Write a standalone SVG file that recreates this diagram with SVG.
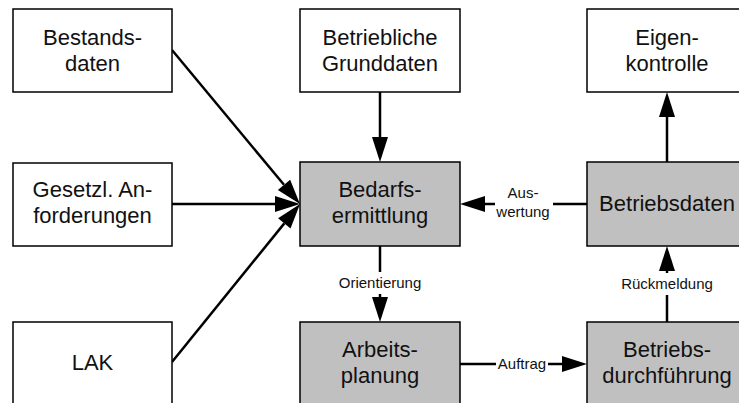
<svg xmlns="http://www.w3.org/2000/svg" width="739" height="403" viewBox="0 0 739 403">
  <style>
    .box { fill: #ffffff; stroke: #000000; stroke-width: 1.5; }
    .proc { fill: #c0c0c0; stroke: #000000; stroke-width: 1.5; }
    .t { font-family: "Liberation Sans", Arial, sans-serif; font-size: 22px; fill: #111111; text-anchor: middle; }
    .lbl { font-family: "Liberation Sans", Arial, sans-serif; font-size: 15px; fill: #111111; text-anchor: middle; }
    .edge { fill: none; stroke: #000000; stroke-width: 2.5; marker-end: url(#head); }
    .plain { fill: none; stroke: #000000; stroke-width: 2.5; }
  </style>
  <defs>
    <!-- filled arrowhead; the line stops at the arrowhead base -->
    <marker id="head" markerUnits="userSpaceOnUse" markerWidth="26" markerHeight="18" refX="0" refY="8" orient="auto" overflow="visible">
      <path d="M0,0 L25,8 L0,16 Z" fill="#000000"/>
    </marker>
  </defs>

  <rect width="739" height="403" fill="#ffffff"/>

  <g id="connectors">
    <!-- inputs into Bedarfsermittlung -->
    <line class="edge" x1="172" y1="50" x2="284" y2="184.8"/>
    <line class="edge" x1="172" y1="204" x2="275" y2="204"/>
    <line class="edge" x1="172" y1="362" x2="284.3" y2="223.4"/>
    <line class="edge" x1="380" y1="92" x2="380" y2="137"/>
    <!-- Orientierung -->
    <line class="edge" x1="380" y1="246" x2="380" y2="297"/>
    <!-- Auftrag -->
    <line class="edge" x1="460" y1="364" x2="562" y2="364"/>
    <!-- Rueckmeldung -->
    <line class="edge" x1="667" y1="322" x2="667" y2="271"/>
    <!-- Auswertung -->
    <line class="edge" x1="587" y1="204" x2="485" y2="204"/>
    <!-- Betriebsdaten to Eigenkontrolle -->
    <line class="edge" x1="667" y1="162" x2="667" y2="117"/>

    <g id="edge-labels">
      <rect x="334" y="272" width="92" height="22" fill="#ffffff"/>
      <text class="lbl" x="380" y="288">Orientierung</text>
      <rect x="619" y="273" width="96" height="22" fill="#ffffff"/>
      <text class="lbl" x="667" y="289">Rückmeldung</text>
      <rect x="496" y="354" width="52" height="20" fill="#ffffff"/>
      <text class="lbl" x="522" y="369">Auftrag</text>
      <rect x="495" y="182" width="58" height="40" fill="#ffffff"/>
      <text class="lbl" x="523" y="198">Aus-</text>
      <text class="lbl" x="523" y="217">wertung</text>
    </g>
  </g>

  <g id="bestandsdaten">
    <rect class="box" x="13" y="9" width="159" height="83"/>
    <text class="t" x="92.5" y="45">Bestands-</text>
    <text class="t" x="92.5" y="71">daten</text>
  </g>

  <g id="gesetzl-anforderungen">
    <rect class="box" x="13" y="163" width="159" height="83"/>
    <text class="t" x="92.5" y="197">Gesetzl. An-</text>
    <text class="t" x="92.5" y="223">forderungen</text>
  </g>

  <g id="lak">
    <rect class="box" x="13" y="322" width="159" height="83"/>
    <text class="t" x="92.5" y="370">LAK</text>
  </g>

  <g id="betriebliche-grunddaten">
    <rect class="box" x="300" y="9" width="160" height="83"/>
    <text class="t" x="380" y="45">Betriebliche</text>
    <text class="t" x="380" y="71">Grunddaten</text>
  </g>

  <g id="bedarfsermittlung">
    <rect class="proc" x="300" y="162" width="160" height="84"/>
    <text class="t" x="380" y="197">Bedarfs-</text>
    <text class="t" x="380" y="223">ermittlung</text>
  </g>

  <g id="arbeitsplanung">
    <rect class="proc" x="300" y="322" width="160" height="83"/>
    <text class="t" x="380" y="357">Arbeits-</text>
    <text class="t" x="380" y="383">planung</text>
  </g>

  <g id="eigenkontrolle">
    <rect class="box" x="587" y="9" width="160" height="83"/>
    <text class="t" x="667" y="45">Eigen-</text>
    <text class="t" x="667" y="71">kontrolle</text>
  </g>

  <g id="betriebsdaten">
    <rect class="proc" x="587" y="162" width="160" height="84"/>
    <text class="t" x="667" y="211">Betriebsdaten</text>
  </g>

  <g id="betriebsdurchfuehrung">
    <rect class="proc" x="587" y="322" width="160" height="83"/>
    <text class="t" x="667" y="357">Betriebs-</text>
    <text class="t" x="667" y="383">durchführung</text>
  </g>
</svg>
